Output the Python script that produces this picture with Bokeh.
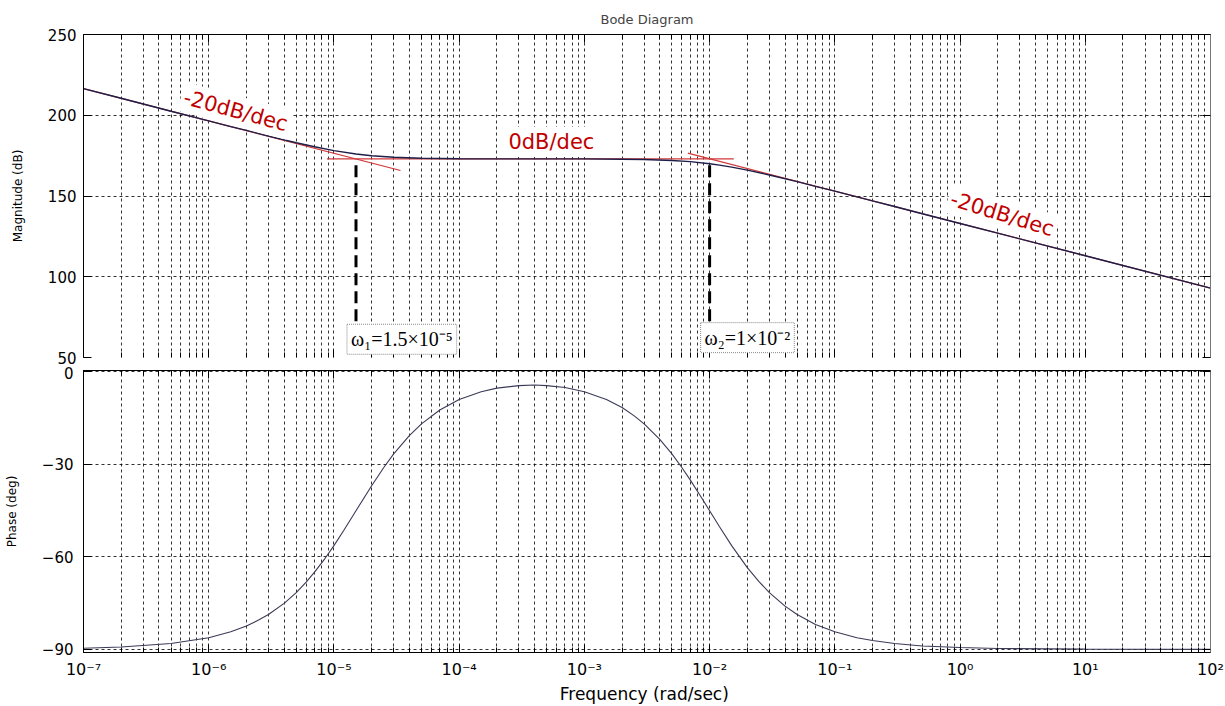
import numpy as np
from bokeh.plotting import figure
from bokeh.layouts import column
from bokeh.models import LogAxis, LinearAxis, FixedTicker, Label
from bokeh.embed import file_html
from bokeh.resources import INLINE

# ---------------- data ----------------
freq_mag = [1e-7, 2e-7, 5e-7, 1e-6, 1.5e-6, 2e-6, 3e-6, 5e-6, 7e-6, 1e-5, 1.5e-5, 2e-5,
            3e-5, 5e-5, 1e-4, 2e-4, 4e-4, 1e-3, 2e-3, 3e-3, 5e-3, 7e-3, 1e-2, 1.2e-2,
            1.5e-2, 2e-2, 3e-2, 5e-2, 7e-2, 1e-1, 2e-1, 3e-1, 5e-1, 1.0, 2.0, 10.0, 100.0]
mag_db = [216.5, 210.5, 202.5, 196.5, 193.0, 190.6, 187.1, 183.0, 180.5, 178.1, 176.0, 174.9,
          174.0, 173.4, 173.1, 173.0, 173.0, 173.0, 172.8, 172.6, 172.0, 171.3, 170.0, 169.1,
          167.9, 166.0, 163.0, 158.9, 156.0, 153.0, 147.0, 143.5, 139.0, 133.0, 127.0, 113.0, 93.0]

freq_phase = [1e-7, 2e-7, 5e-7, 1e-6, 1.5e-6, 2e-6, 2.5e-6, 3e-6, 4e-6, 5e-6, 6e-6, 7e-6,
              8.5e-6, 1e-5, 1.2e-5, 1.5e-5, 2e-5, 2.5e-5, 3e-5, 4e-5, 5e-5, 7e-5, 1e-4,
              1.5e-4, 2e-4, 3e-4, 4e-4, 5e-4, 7e-4, 1e-3, 1.5e-3, 2e-3, 2.5e-3, 3e-3, 4e-3,
              5e-3, 6e-3, 7e-3, 8.5e-3, 1e-2, 1.2e-2, 1.5e-2, 2e-2, 2.5e-2, 3e-2, 4e-2,
              5e-2, 7e-2, 1e-1, 1.5e-1, 2e-1, 3e-1, 5e-1, 1.0, 2.0, 10.0, 100.0]
phase_deg = [-89.6, -89.2, -88.1, -86.2, -84.3, -82.4, -80.5, -78.7, -75.1, -71.6, -68.2, -65.0,
             -60.5, -56.4, -51.4, -45.1, -37.0, -31.1, -26.7, -20.8, -17.0, -12.5, -9.1,
             -6.6, -5.4, -4.6, -4.4, -4.6, -5.2, -6.6, -9.1, -11.7, -14.4, -17.0, -22.0,
             -26.7, -31.1, -35.1, -40.5, -45.1, -50.3, -56.4, -63.5, -68.2, -71.6, -76.0,
             -78.7, -81.9, -84.3, -86.2, -87.1, -88.1, -88.9, -89.4, -89.7, -89.9, -90.0]

asym_low_x = [1e-7, 3.4e-5]
asym_low_y = [216.5, 165.8]
asym_mid_x = [8.8e-6, 1.56e-2]
asym_mid_y = [173.0, 173.0]
asym_high_x = [6.7e-3, 1e2]
asym_high_y = [176.5, 93.0]

corner_freqs = [1.5e-5, 1e-2]
corner_top = [169.0, 169.0]
corner_bottom = [70.0, 70.0]
corner_labels = ["ω₁=1.5×10⁻⁵", "ω₂=1×10⁻²"]
corner_label_y = [52.0, 53.0]

slope_labels = ["-20dB/dec", "0dB/dec", "-20dB/dec"]
slope_label_x = [1.64e-6, 5.45e-4, 2.17]
slope_label_y = [202.8, 183.5, 138.8]
slope_label_angle_deg = [-15, 0, -17]

x_tick_exps = [-7, -6, -5, -4, -3, -2, -1, 0, 1, 2]
mag_ticks = [50, 100, 150, 200, 250]
phase_ticks = [-90, -60, -30, 0]

title_text = "Bode Diagram"
mag_label = "Magnitude (dB)"
phase_label = "Phase (deg)"
freq_label = "Frequency  (rad/sec)"

# ---------------- styling helpers ----------------
SUP = str.maketrans("-0123456789", "⁻⁰¹²³⁴⁵⁶⁷⁸⁹")
x_major = [10.0 ** e for e in x_tick_exps]
x_minor = [m * 10.0 ** e for e in x_tick_exps[:-1] for m in range(2, 10)]
x_overrides = {10.0 ** e: "10" + str(e).translate(SUP) for e in x_tick_exps}

FONT = "DejaVu Sans"
GRID_DASH = "3 3"


def hide_labels(ax):
    ax.major_label_text_font_size = "1px"
    ax.major_label_text_color = None
    ax.major_label_standoff = 0


def style_fig(p, yticks, show_xlabels, ylabel, ylabel_standoff, ytick_standoff):
    xa = p.below[0]
    ya = p.left[0]
    xt = FixedTicker(ticks=x_major, minor_ticks=x_minor)
    yt = FixedTicker(ticks=yticks)
    xa.ticker = xt
    ya.ticker = yt
    top = LogAxis(ticker=xt)
    right = LinearAxis(ticker=yt)
    p.add_layout(top, "above")
    p.add_layout(right, "right")
    for ax in [xa, top]:
        ax.major_tick_in = 8
        ax.major_tick_out = 0
        ax.minor_tick_in = 5
        ax.minor_tick_out = 0
        ax.major_tick_line_color = "black"
        ax.minor_tick_line_color = "black"
        ax.axis_line_color = "black"
    for ax in [ya, right]:
        ax.major_tick_in = 8
        ax.major_tick_out = 0
        ax.minor_tick_in = 0
        ax.minor_tick_out = 0
        ax.major_tick_line_color = "black"
        ax.axis_line_color = "black"
    hide_labels(top)
    hide_labels(right)
    right.axis_line_color = "#777777"
    if show_xlabels:
        xa.major_label_overrides = x_overrides
        xa.major_label_text_font = FONT
        xa.major_label_text_font_size = "16px"
        xa.major_label_text_color = "black"
        xa.major_label_standoff = 7
    else:
        hide_labels(xa)
        xa.axis_line_color = None
    ya.major_label_text_font = FONT
    ya.major_label_text_font_size = "15px"
    ya.major_label_text_color = "black"
    ya.major_label_standoff = ytick_standoff
    ya.axis_label = ylabel
    ya.axis_label_text_font = FONT
    ya.axis_label_text_font_size = "12px"
    ya.axis_label_text_font_style = "normal"
    ya.axis_label_text_color = "black"
    ya.axis_label_standoff = ylabel_standoff
    p.xgrid.grid_line_color = "black"
    p.xgrid.grid_line_dash = GRID_DASH
    p.xgrid.grid_line_alpha = 0.8
    p.xgrid.minor_grid_line_color = "black"
    p.xgrid.minor_grid_line_dash = GRID_DASH
    p.xgrid.minor_grid_line_alpha = 0.8
    p.ygrid.grid_line_color = "black"
    p.ygrid.grid_line_dash = GRID_DASH
    p.ygrid.grid_line_alpha = 0.8
    p.background_fill_color = "white"
    p.border_fill_color = "white"
    return xa


# ---------------- magnitude ----------------
p1 = figure(width=1225, height=366, x_axis_type="log", x_range=(1e-7, 1e2), y_range=(50, 250),
            output_backend="svg", toolbar_location=None,
            min_border_left=83, min_border_right=15, min_border_top=34, min_border_bottom=9)
p1.outline_line_color = None
p1.title.text = title_text
p1.title.align = "center"
p1.title.text_font = FONT
p1.title.text_font_size = "13px"
p1.title.text_font_style = "normal"
p1.title.standoff = 15
style_fig(p1, mag_ticks, False, mag_label, 20, 7)

red = "#d03838"
p1.line(asym_low_x, asym_low_y, line_color=red, line_width=1.2)
p1.line(asym_mid_x, asym_mid_y, line_color=red, line_width=1.2)
p1.line(asym_high_x, asym_high_y, line_color=red, line_width=1.2)
p1.line(freq_mag, mag_db, line_color="#1e1e48", line_width=1.4)

p1.segment(x0=corner_freqs, y0=corner_top, x1=corner_freqs, y1=corner_bottom,
           line_color="black", line_width=3, line_dash="12 6")

for i, txt in enumerate(corner_labels):
    p1.add_layout(Label(x=corner_freqs[i], y=corner_label_y[i], x_offset=-9, text=txt,
                        text_align="left", text_baseline="bottom",
                        text_font="Liberation Serif", text_font_size="20px",
                        text_color="black", background_fill_color="white",
                        border_line_color="#888888", border_line_dash="1 1",
                        padding=4))

for i, txt in enumerate(slope_labels):
    p1.add_layout(Label(x=slope_label_x[i], y=slope_label_y[i], text=txt,
                        angle=np.deg2rad(slope_label_angle_deg[i]),
                        text_align="center", text_baseline="middle",
                        text_font=FONT, text_font_size="21px", text_color="#c00000",
                        background_fill_color="white", padding=3))

# ---------------- phase ----------------
p2 = figure(width=1225, height=340, x_axis_type="log", x_range=(1e-7, 1e2), y_range=(-91, 0.3),
            output_backend="svg", toolbar_location=None,
            min_border_left=83, min_border_right=15, min_border_top=4, min_border_bottom=51)
p2.outline_line_color = "black"
xa2 = style_fig(p2, phase_ticks, True, phase_label, 20, 10)
xa2.axis_label = freq_label
xa2.axis_label_text_font = FONT
xa2.axis_label_text_font_size = "17px"
xa2.axis_label_text_font_style = "normal"
xa2.axis_label_text_color = "black"
xa2.axis_label_standoff = 2
p2.line(freq_phase, phase_deg, line_color="#3a3a58", line_width=1.1)

layout = column(p1, p2, spacing=0)
open("out.html", "w").write(file_html(layout, INLINE))
